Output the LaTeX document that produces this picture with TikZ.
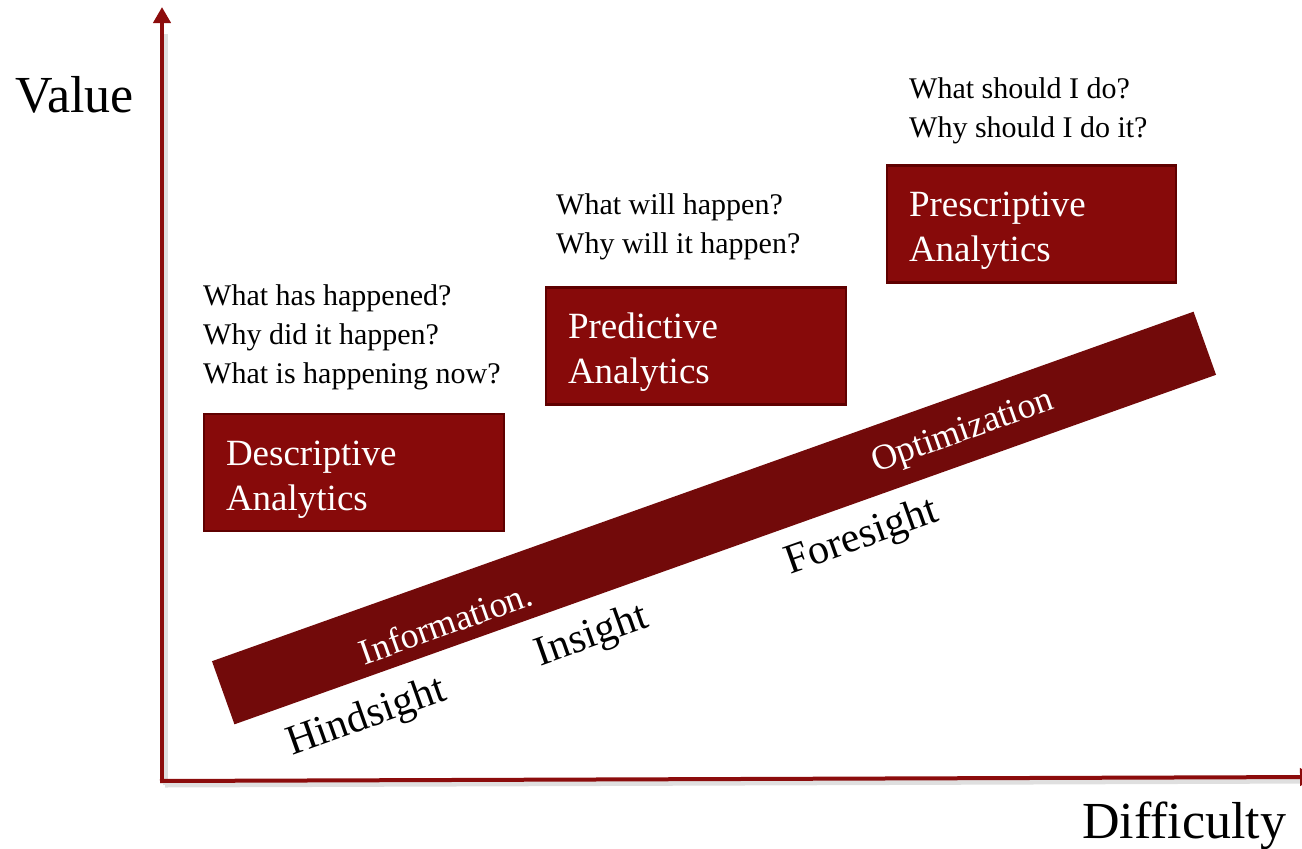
\documentclass[tikz,border=0pt]{standalone}
\usepackage{fontspec}
\setmainfont{Liberation Serif}
\usetikzlibrary{positioning, arrows.meta}

\definecolor{axisred}{RGB}{140,12,12}
\definecolor{boxred}{RGB}{135,10,10}
\definecolor{boxedge}{RGB}{95,0,0}
\definecolor{bandred}{RGB}{114,10,10}

\newcommand{\boxstrut}{\rule{0pt}{38pt}}

\begin{document}
\begin{tikzpicture}[
    x=1pt, y=-1pt,
    % Node styles
    stage/.style={
        rectangle,
        draw=boxedge,
        line width=2.5pt,
        fill=boxred,
        text=white,
        minimum width=300pt,
        minimum height=117pt,
        text width=#1,
        inner xsep=22pt,
        align=left,
        font=\fontsize{37}{45}\selectfont
    },
    stage/.default=256pt,
    question/.style={
        anchor=base west,
        inner sep=0pt,
        align=left,
        font=\fontsize{30}{39}\selectfont
    },
    band/.style={
        rectangle,
        fill=bandred,
        inner sep=0pt,
        minimum width=1042pt,
        minimum height=67pt,
        rotate=19.6
    },
    bandlabel/.style={
        text=white,
        rotate=19.6,
        inner sep=0pt,
        font=\fontsize{36}{36}\selectfont
    },
    sight/.style={
        rotate=19.6,
        inner sep=0pt,
        font=\fontsize{42}{42}\selectfont
    },
    axis/.style={
        -{Triangle[length=16pt, width=17pt]},
        line width=4pt,
        draw=axisred
    },
    axisshadow/.style={
        line width=5pt,
        draw=gray!25
    },
    axislabel/.style={
        anchor=base west,
        inner sep=0pt,
        font=\fontsize{52}{52}\selectfont
    }
]

\useasboundingbox (0,0) rectangle (1302,849);

% Axes
\coordinate (origin) at (162,781);
\coordinate (ytop) at (162,7);
\coordinate (xend) at (1316,777);

\draw[axisshadow] ([shift={(3,4)}]origin) -- ([shift={(3,4)}]ytop |- 0,30);
\draw[axisshadow] ([shift={(3,4)}]origin) -- ([shift={(3,4)}]xend);
\draw[axis] ([yshift=2]origin) -- (ytop);
\draw[axis] ([xshift=-2]origin) -- (xend);

\node[axislabel] (value) at (15,112) {Value};
\node[axislabel] (difficulty) at (1082,838) {Difficulty};

% Band
\node[band] (band) at (714,518) {};
\node[bandlabel] (info) at (446,623) {Information.};
\node[bandlabel] (optim) at (963,433) {Optimization};

\node[sight] (hind) at (367,718) {Hindsight};
\node[sight] (ins) at (592,637) {Insight};
\node[sight] (fore) at (862,538) {Foresight};

% Stage boxes
\node[stage] (desc) at (354,472.5) {\boxstrut Descriptive\\Analytics};
\node[stage] (pred) at (696,346) {\boxstrut Predictive\\Analytics};
\node[stage=245pt, minimum width=289pt] (pres) at (1031.5,224) {\boxstrut Prescriptive\\Analytics};

% Questions (anchored at the last line)
\node[question] (descq) at (203,383) {What has happened?\\Why did it happen?\\What is happening now?};
\node[question] (predq) at (556,253) {What will happen?\\Why will it happen?};
\node[question] (presq) at (909,137) {What should I do?\\Why should I do it?};

\end{tikzpicture}
\end{document}
